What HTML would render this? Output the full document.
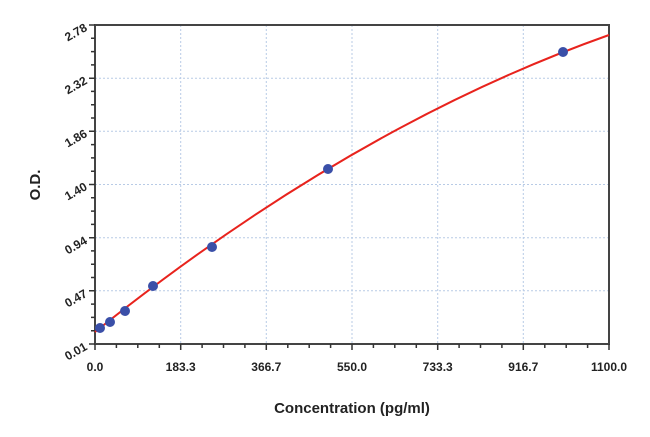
<!DOCTYPE html>
<html><head><meta charset="utf-8"><style>
body{margin:0;background:#fff;}
svg{display:block;font-family:"Liberation Sans",sans-serif;}
</style></head><body>
<svg width="650" height="437" viewBox="0 0 650 437">
<rect width="650" height="437" fill="#fff"/>
<g stroke="#b8cbe6" stroke-width="1" stroke-dasharray="2,2">
<line x1="180.7" y1="25" x2="180.7" y2="344"/>
<line x1="266.3" y1="25" x2="266.3" y2="344"/>
<line x1="352" y1="25" x2="352" y2="344"/>
<line x1="437.7" y1="25" x2="437.7" y2="344"/>
<line x1="523.3" y1="25" x2="523.3" y2="344"/>
<line x1="95" y1="78.2" x2="609" y2="78.2"/>
<line x1="95" y1="131.3" x2="609" y2="131.3"/>
<line x1="95" y1="184.5" x2="609" y2="184.5"/>
<line x1="95" y1="237.7" x2="609" y2="237.7"/>
<line x1="95" y1="290.8" x2="609" y2="290.8"/>
</g>
<rect x="95" y="25" width="514" height="319" fill="none" stroke="#444" stroke-width="2"/>
<g stroke="#333" stroke-width="1.5">
<path d="M89,344H95M91,330.7H95M91,317.4H95M91,304.1H95M89,290.8H95M91,277.5H95M91,264.2H95M91,250.9H95M89,237.7H95M91,224.4H95M91,211.1H95M91,197.8H95M89,184.5H95M91,171.2H95M91,157.9H95M91,144.6H95M89,131.3H95M91,118H95M91,104.7H95M91,91.4H95M89,78.2H95M91,64.9H95M91,51.6H95M91,38.3H95M89,25H95"/>
<path d="M95,344V350M116.4,344V348M137.8,344V348M159.3,344V348M180.7,344V350M202.1,344V348M223.5,344V348M244.9,344V348M266.3,344V350M287.8,344V348M309.2,344V348M330.6,344V348M352,344V350M373.4,344V348M394.8,344V348M416.3,344V348M437.7,344V350M459.1,344V348M480.5,344V348M501.9,344V348M523.3,344V350M544.8,344V348M566.2,344V348M587.6,344V348M609,344V350"/>
</g>
<path d="M95,332 Q352,126 609,35" fill="none" stroke="#e8231d" stroke-width="2"/>
<g fill="#3a4fa8">
<circle cx="100" cy="328" r="5"/>
<circle cx="110" cy="322" r="5"/>
<circle cx="125" cy="311" r="5"/>
<circle cx="153" cy="286" r="5"/>
<circle cx="212" cy="247" r="5"/>
<circle cx="328" cy="169" r="5"/>
<circle cx="563" cy="52" r="5"/>
</g>
<g font-size="12" font-weight="bold" fill="#222" text-anchor="end">
<text transform="translate(88,30) rotate(-30)">2.78</text>
<text transform="translate(88,83) rotate(-30)">2.32</text>
<text transform="translate(88,136) rotate(-30)">1.86</text>
<text transform="translate(88,189) rotate(-30)">1.40</text>
<text transform="translate(88,243) rotate(-30)">0.94</text>
<text transform="translate(88,296) rotate(-30)">0.47</text>
<text transform="translate(88,349) rotate(-30)">0.01</text>
</g>
<g font-size="12" font-weight="bold" fill="#222" text-anchor="middle">
<text x="95" y="371">0.0</text>
<text x="180.7" y="371">183.3</text>
<text x="266.3" y="371">366.7</text>
<text x="352" y="371">550.0</text>
<text x="437.7" y="371">733.3</text>
<text x="523.3" y="371">916.7</text>
<text x="609" y="371">1100.0</text>
</g>
<text x="352" y="413" font-size="15" font-weight="bold" fill="#222" text-anchor="middle">Concentration (pg/ml)</text>
<text transform="translate(40,185) rotate(-90)" font-size="15" font-weight="bold" fill="#222" text-anchor="middle">O.D.</text>
</svg>
</body></html>
